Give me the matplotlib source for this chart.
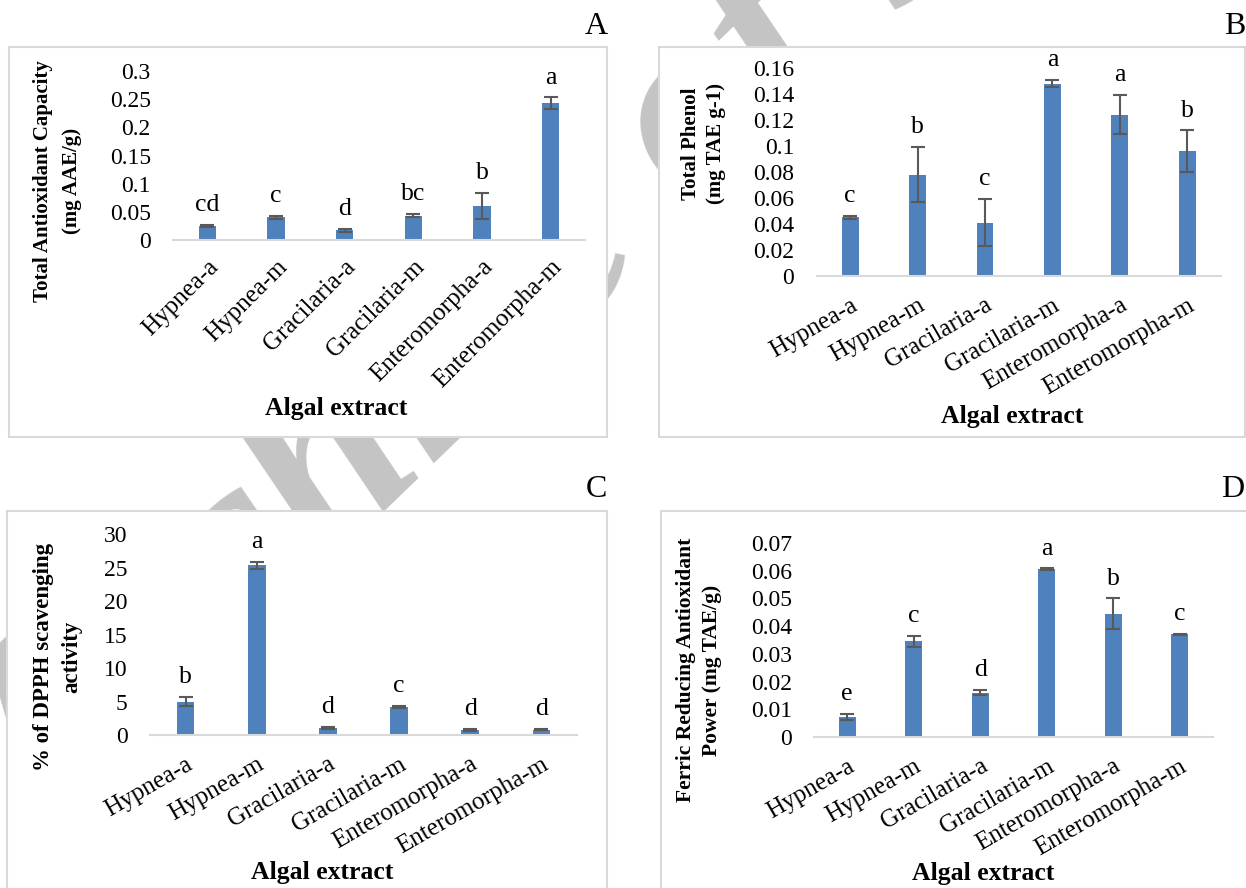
import numpy as np
import matplotlib
matplotlib.use('Agg')
import matplotlib.pyplot as plt
from matplotlib.patches import Rectangle

# Data
categories = ['Hypnea-a', 'Hypnea-m', 'Gracilaria-a', 'Gracilaria-m',
              'Enteromorpha-a', 'Enteromorpha-m']

tac_values = [0.025, 0.040, 0.017, 0.043, 0.060, 0.243]
tac_errors = [0.002, 0.002, 0.002, 0.003, 0.023, 0.010]
tac_letters = ['cd', 'c', 'd', 'bc', 'b', 'a']

phenol_values = [0.045, 0.078, 0.041, 0.148, 0.124, 0.096]
phenol_errors = [0.001, 0.021, 0.018, 0.003, 0.015, 0.016]
phenol_letters = ['c', 'b', 'c', 'a', 'a', 'b']

dpph_values = [5.0, 25.3, 1.1, 4.2, 0.8, 0.8]
dpph_errors = [0.7, 0.5, 0.15, 0.15, 0.15, 0.1]
dpph_letters = ['b', 'a', 'd', 'c', 'd', 'd']

frap_values = [0.0073, 0.0345, 0.016, 0.0605, 0.0445, 0.037]
frap_errors = [0.001, 0.002, 0.001, 0.0003, 0.0055, 0.0002]
frap_letters = ['e', 'c', 'd', 'a', 'b', 'c']

W, H = 1246, 888
BAR_COLOR = '#4f81bd'
ERR_COLOR = '#595959'
GRID_GREY = '#d9d9d9'
SERIF = ['Liberation Serif', 'DejaVu Serif']

plt.rcParams['font.family'] = SERIF


def fx(x):
    return x / W


def fy(y):
    return 1 - y / H


def draw_panel(fig, rect, values, errors, letters, ymax, ystep, tick_fmt,
               rotation, pad):
    # rect = (left, right, top, bottom) in pixels
    left, right, top, bottom = rect
    ax = fig.add_axes([fx(left), fy(bottom), (right - left) / W, (bottom - top) / H])
    ax.set_zorder(3)
    ax.patch.set_visible(False)
    x = np.arange(len(categories))
    ax.bar(x, values, width=0.25, color=BAR_COLOR, zorder=2)
    ax.errorbar(x, values, yerr=errors, fmt='none', ecolor=ERR_COLOR,
                elinewidth=1.5, capsize=5, capthick=1.5, zorder=3)
    for i, (v, e, l) in enumerate(zip(values, errors, letters)):
        ax.annotate(l, xy=(i, v + e), xytext=(0, 10), textcoords='offset points',
                    ha='center', va='baseline', fontsize=18.5)
    ax.set_xlim(-0.5, len(categories) - 0.5)
    ax.set_ylim(0, ymax)
    ticks = np.arange(0, ymax + ystep / 2, ystep)
    ax.set_yticks(ticks)
    ax.set_yticklabels([tick_fmt(t) for t in ticks], fontsize=17)
    ax.set_xticks(x)
    ax.set_xticklabels(categories, rotation=rotation, ha='right', va='top',
                       rotation_mode='anchor', fontsize=18)
    ax.tick_params(axis='y', length=0, pad=16)
    ax.tick_params(axis='x', length=0, pad=pad)
    for s in ['top', 'right', 'left']:
        ax.spines[s].set_visible(False)
    ax.spines['bottom'].set_color(GRID_GREY)
    ax.spines['bottom'].set_linewidth(1.5)
    return ax


def fmt_general(t):
    s = ('%.2f' % t).rstrip('0').rstrip('.')
    return s if s else '0'


fig = plt.figure(figsize=(W / 100, H / 100), dpi=100)

# watermark behind the panel boxes
fig.text(fx(50), fy(848), 'Archive of SID', rotation=44, rotation_mode='anchor',
         fontsize=187, style='italic', weight='bold', color='#c4c4c4',
         ha='left', va='baseline', zorder=0.5)

# panel frames
for (x0, y0, x1, y1) in [(9, 47, 607, 437), (659, 47, 1245, 437),
                         (7, 511, 607, 895), (661, 511, 1252, 895)]:
    fig.patches.append(Rectangle((fx(x0), fy(y1)), (x1 - x0) / W, (y1 - y0) / H,
                                 transform=fig.transFigure, facecolor='white',
                                 edgecolor=GRID_GREY, linewidth=1.5, zorder=1))

draw_panel(fig, (173, 585, 71, 240), tac_values, tac_errors, tac_letters,
           0.3, 0.05, fmt_general, 45, 11.5)
draw_panel(fig, (816.5, 1221, 68, 276), phenol_values, phenol_errors, phenol_letters,
           0.16, 0.02, fmt_general, 30, 13)
draw_panel(fig, (150, 577, 534, 735), dpph_values, dpph_errors, dpph_letters,
           30, 5, lambda t: '%d' % t, 30, 13)
draw_panel(fig, (814, 1213, 543, 737), frap_values, frap_errors, frap_letters,
           0.07, 0.01, fmt_general, 30, 13)

# panel letters
for letter, (px, py) in zip('ABCD', [(596, 27), (1235, 27), (596, 489), (1233, 489)]):
    fig.text(fx(px), fy(py), letter, fontsize=23, ha='center', va='center', zorder=4)

# y-axis titles (two lines each)
ylabels = [
    (('Total Antioxidant Capacity', '(mg AAE/g)'), (43, 72), 181, 15),
    (('Total Phenol', '(mg TAE g-1)'), (690.5, 716), 143.5, 15),
    (('% of DPPH scavenging', 'activity'), (44, 71.5), 657, 16.5),
    (('Ferric Reducing Antioxidant', 'Power (mg TAE/g)'), (686, 712), 670, 15.5),
]
for lines, xs, yc, fs in ylabels:
    for txt, px in zip(lines, xs):
        fig.text(fx(px), fy(yc), txt, rotation=90, fontsize=fs, weight='bold',
                 ha='center', va='center', zorder=4)

# x-axis titles
for px, py in [(336, 408), (1012, 417), (322, 872), (983, 873)]:
    fig.text(fx(px), fy(py), 'Algal extract', fontsize=18.5, weight='bold',
             ha='center', va='center', zorder=4)

fig.savefig('out.png', dpi=100)
